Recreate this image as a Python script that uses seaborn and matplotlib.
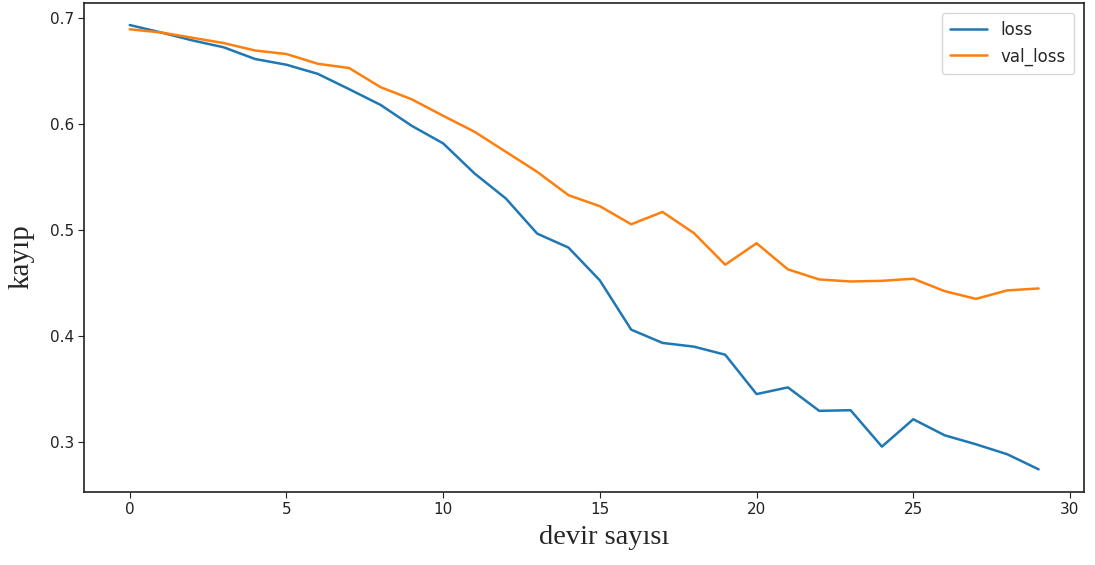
import matplotlib
matplotlib.use("Agg")
import matplotlib.pyplot as plt
import numpy as np
import pandas as pd
import seaborn as sns

# Training history per epoch
epochs = list(range(30))
loss = [0.693, 0.686, 0.6785, 0.672, 0.661, 0.6556, 0.647, 0.6326, 0.6178, 0.598,
        0.5815, 0.5532, 0.5296, 0.4965, 0.4833, 0.4524, 0.406, 0.3935, 0.390, 0.3824,
        0.3453, 0.3516, 0.3295, 0.3301, 0.2958, 0.3216, 0.3065, 0.298, 0.2886, 0.2744]
val_loss = [0.689, 0.686, 0.681, 0.676, 0.669, 0.6657, 0.6565, 0.6525, 0.6345, 0.623,
            0.6075, 0.5925, 0.5736, 0.5547, 0.5327, 0.5223, 0.5053, 0.5169, 0.497, 0.4672,
            0.4874, 0.4628, 0.4533, 0.4514, 0.4520, 0.454, 0.4423, 0.435, 0.443, 0.4448]
series_names = ["loss", "val_loss"]

df = pd.DataFrame({
    "epoch": epochs * 2,
    "value": loss + val_loss,
    "series": [series_names[0]] * len(epochs) + [series_names[1]] * len(epochs),
})

sns.set_style("ticks")
plt.rcParams["font.family"] = ["DejaVu Sans"]

fig = plt.figure(figsize=(10.95, 5.65), dpi=100)
ax = fig.add_axes([0.077, 0.130, 0.913, 0.865])

sns.lineplot(data=df, x="epoch", y="value", hue="series",
             palette=["#1f77b4", "#ff7f0e"], linewidth=1.8, ax=ax)

for side in ["top", "right", "bottom", "left"]:
    ax.spines[side].set_color("#222222")
    ax.spines[side].set_linewidth(1.2)

ax.set_xticks([0, 5, 10, 15, 20, 25, 30])
ax.set_yticks([0.3, 0.4, 0.5, 0.6, 0.7])
ax.tick_params(axis="both", labelsize=11, colors="#222222", length=4)

ax.set_xlabel("devir sayısı", family="Liberation Serif", fontsize=20.5)
ax.set_ylabel("kayıp", family="Liberation Serif", fontsize=21)
ax.xaxis.set_label_coords(0.52, -0.068)
ax.yaxis.set_label_coords(-0.05, 0.48)

leg = ax.legend(loc="upper right", fontsize=12, frameon=True,
                borderpad=0.5, handlelength=2.2, labelspacing=0.5,
                borderaxespad=0, bbox_to_anchor=(0.99, 0.98))
leg.get_frame().set_edgecolor("#cccccc")

fig.savefig("out.png", dpi=100)
